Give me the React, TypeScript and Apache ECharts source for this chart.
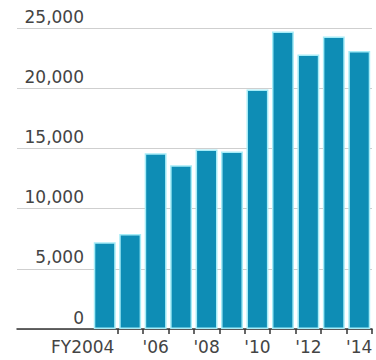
import React, { useEffect, useRef } from "react";
import * as echarts from "echarts";

const categories = ["FY2004", "'05", "'06", "'07", "'08", "'09", "'10", "'11", "'12", "'13", "'14"];
const values = [7200, 7900, 14600, 13600, 14900, 14750, 19900, 24700, 22800, 24300, 23100];
const yTicks = [0, 5000, 10000, 15000, 20000, 25000];

const FONT = "DejaVu Sans";

export default function App() {
  const ref = useRef<HTMLDivElement>(null);
  useEffect(() => {
    if (!ref.current) return;
    const chart = echarts.init(ref.current, undefined, { renderer: "svg" });
    const yMax = yTicks[yTicks.length - 1];
    chart.setOption({
      animation: false,
      backgroundColor: "#ffffff",
      grid: [
        { left: 17, right: 4, top: 28, bottom: 31 },
        { left: 92, right: 4, top: 28, bottom: 31 },
      ],
      xAxis: [
        {
          gridIndex: 0,
          type: "value",
          min: 0,
          max: 1,
          axisLine: { show: true, onZero: false, lineStyle: { color: "#333333", width: 1.5 } },
          axisTick: { show: false },
          axisLabel: { show: false },
          splitLine: { show: false },
        },
        {
          gridIndex: 1,
          type: "category",
          data: categories,
          axisLine: { show: false },
          axisTick: {
            show: true,
            length: 5,
            lineStyle: { color: "#333333", width: 1.5 },
            interval: (i: number) => i > 0,
          },
          axisLabel: {
            interval: 1,
            margin: 9,
            color: "#444444",
            fontFamily: FONT,
            fontSize: 17,
            formatter: (v: string, i: number) => (i === 0 ? "{f|" + v + "}" : v),
            rich: {
              f: { padding: [0, 44, 0, 0], color: "#444444", fontFamily: FONT, fontSize: 17 },
            },
          },
        },
      ],
      yAxis: [
        {
          gridIndex: 0,
          type: "value",
          min: 0,
          max: yMax,
          interval: 5000,
          axisLine: { show: false },
          axisTick: { show: false },
          splitLine: { show: true, lineStyle: { color: "#cfcfcf", width: 1 } },
          axisLabel: {
            inside: true,
            align: "right",
            verticalAlign: "bottom",
            margin: 67,
            padding: [0, 0, 3, 0],
            color: "#444444",
            fontFamily: FONT,
            fontSize: 17,
            formatter: (v: number) => v.toLocaleString("en-US"),
          },
        },
        {
          gridIndex: 1,
          type: "value",
          min: 0,
          max: yMax,
          interval: 5000,
          show: false,
          splitLine: { show: false },
        },
      ],
      series: [
        {
          type: "bar",
          xAxisIndex: 1,
          yAxisIndex: 1,
          data: values,
          barCategoryGap: "14%",
          itemStyle: { color: "#0e8db5", borderColor: "#a6ecf7", borderWidth: 1.5 },
        },
      ],
    });
    return () => chart.dispose();
  }, []);
  return (
    <div
      ref={ref}
      style={{ position: "absolute", left: 0, top: 0, width: 376, height: 360, overflow: "hidden" }}
    />
  );
}
